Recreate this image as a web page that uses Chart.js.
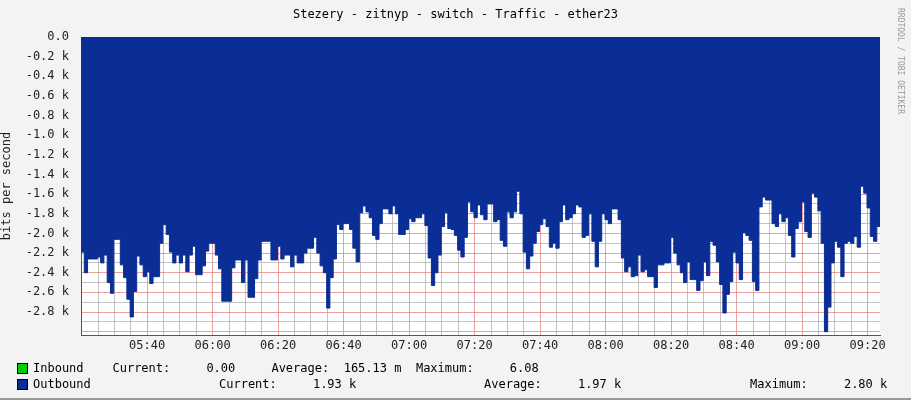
<!DOCTYPE html>
<html><head><meta charset="utf-8">
<script src="https://cdn.jsdelivr.net/npm/chart.js@4"></script>
<style>
body{margin:0;background:#f3f3f3;font-family:'DejaVu Sans Mono',monospace;}
#wrap{position:relative;width:911px;height:400px;background:#f3f3f3;overflow:hidden;border-bottom:2px solid #999;box-sizing:border-box}
.t{position:absolute;font-size:12px;color:#000;white-space:pre;line-height:14px}
.sw{position:absolute;width:9px;height:9px;border:1px solid #000}
</style></head><body>
<div id="wrap">
<canvas id="c" width="911" height="400" style="position:absolute;left:0;top:0"></canvas>
<div class="t" style="left:0;width:911px;text-align:center;top:7px">Stezery - zitnyp - switch - Traffic - ether23</div>
<div class="t" style="left:897px;top:8px;font-size:8px;color:#999;transform-origin:0 0;transform:rotate(90deg) translate(0,-10px);">RRDTOOL / TOBI OETIKER</div>
<div class="sw" style="left:17px;top:363px;background:#00cc00"></div>
<div class="t" style="left:33px;top:361px">Inbound    Current:     0.00     Average:  165.13 m  Maximum:     6.08</div>
<div class="sw" style="left:17px;top:379px;background:#0a2e96"></div>
<div class="t" style="left:33px;top:377px">Outbound</div>
<div class="t" style="left:219px;top:377px">Current:     1.93 k</div>
<div class="t" style="left:484px;top:377px">Average:     1.97 k</div>
<div class="t" style="left:750px;top:377px">Maximum:     2.80 k</div>
</div>
<script>
const outVals = [2.19,2.40,2.26,2.26,2.26,2.24,2.30,2.22,2.50,2.61,2.06,2.06,2.32,2.45,2.67,2.85,2.59,2.23,2.32,2.44,2.39,2.51,2.44,2.44,2.10,1.91,2.01,2.19,2.30,2.22,2.30,2.22,2.39,2.22,2.13,2.42,2.42,2.33,2.18,2.10,2.10,2.22,2.36,2.69,2.69,2.69,2.35,2.27,2.27,2.50,2.27,2.65,2.65,2.46,2.27,2.08,2.08,2.08,2.27,2.27,2.13,2.26,2.22,2.22,
2.34,2.22,2.30,2.30,2.20,2.15,2.15,2.04,2.20,2.33,2.40,2.76,2.45,2.26,1.91,1.96,1.90,1.90,1.96,2.15,2.29,1.79,1.72,1.78,1.84,2.02,2.06,1.90,1.75,1.75,1.80,1.72,1.80,2.01,2.01,1.96,1.85,1.88,1.84,1.84,1.80,1.92,2.25,2.53,2.40,2.22,1.93,1.79,1.95,1.96,2.02,2.17,2.24,2.04,1.68,1.78,1.84,1.71,1.81,1.86,1.70,1.70,
1.88,1.86,2.07,2.13,1.78,1.84,1.78,1.57,1.80,2.19,2.36,2.23,2.10,1.98,1.91,1.85,1.93,2.14,2.10,2.15,1.88,1.71,1.86,1.84,1.80,1.71,1.73,2.04,2.02,1.80,2.08,2.34,2.08,1.80,1.86,1.90,1.75,1.75,1.86,2.25,2.39,2.34,2.44,2.43,2.22,2.39,2.37,2.44,2.44,2.55,2.32,2.32,2.30,2.30,2.04,2.20,2.32,2.40,2.50,
2.29,2.47,2.47,2.58,2.48,2.29,2.43,2.08,2.12,2.29,2.52,2.81,2.62,2.49,2.19,2.30,2.47,1.99,2.02,2.07,2.49,2.58,1.73,1.63,1.66,1.66,1.90,1.93,1.80,1.88,1.84,2.02,2.24,1.95,1.88,1.68,1.98,2.04,1.59,1.63,1.77,2.10,3.0,2.75,2.30,2.08,2.14,2.44,2.10,2.08,2.10,2.03,2.14,1.52,1.59,1.74,2.03,2.08,1.93];
const timeLabels = ['05:40','06:00','06:20','06:40','07:00','07:20','07:40','08:00','08:20','08:40','09:00','09:20'];
const firstLabelMin = 20.2;
const yTickVals = [0,-0.2,-0.4,-0.6,-0.8,-1.0,-1.2,-1.4,-1.6,-1.8,-2.0,-2.2,-2.4,-2.6,-2.8];

const outPts = outVals.map((v,i)=>({x:i,y:-v}));
outPts.push({x:outVals.length,y:-outVals[outVals.length-1]});
const inPts = outVals.map((v,i)=>({x:i,y:0}));
const xMax = (880-81)/3.275;

new Chart(document.getElementById('c'),{
 type:'line',
 data:{datasets:[
  {data:outPts,stepped:'before',fill:'origin',backgroundColor:'#0a2e96',borderColor:'#0a2e96',borderWidth:1,pointRadius:0},
  {data:inPts,borderColor:'#00cc00',borderWidth:1,pointRadius:0,fill:false}
 ]},
 options:{
  responsive:false,animation:false,
  layout:{padding:{top:37,right:31,left:0,bottom:0}},
  plugins:{legend:{display:false},tooltip:{enabled:false}},
  scales:{
   x:{type:'linear',min:0,max:xMax,z:1,
    afterBuildTicks:s=>{const t=[];for(let m=firstLabelMin-15;m<=xMax;m+=5)t.push({value:m});s.ticks=t;},
    afterFit:s=>{s.height=65;},
    grid:{color:c=>{const k=Math.round((c.tick.value-firstLabelMin)/5);return k%4===0?'rgba(230,120,120,0.7)':'rgba(170,170,170,0.7)';},borderDash:[1,2],drawTicks:false},
    border:{display:true,color:'#555',width:1},
    ticks:{maxRotation:0,autoSkip:false,padding:4,color:'#222',font:{family:'DejaVu Sans Mono',size:12},
     callback:(v)=>{const k=Math.round((v-firstLabelMin)/5);return (k>=0&&k%4===0)?(timeLabels[k/4]||''):'';}}
   },
   y:{type:'linear',min:-3.034,max:0,z:1,
    afterBuildTicks:s=>{const t=[];for(let k=0;k<=30;k++){const v=-k*0.1;if(v>=-3.03)t.push({value:v});}s.ticks=t;},
    afterFit:s=>{s.width=81;},
    grid:{color:c=>{const k=Math.round(-c.tick.value*10);return k%2===0?'rgba(230,120,120,0.7)':'rgba(170,170,170,0.7)';},borderDash:[1,2],drawTicks:false},
    border:{display:true,color:'#555',width:1},
    title:{display:true,text:'bits per second',color:'#222',font:{family:'DejaVu Sans Mono',size:12},padding:0},
    ticks:{autoSkip:false,padding:12,color:'#222',font:{family:'DejaVu Sans Mono',size:12},
     callback:(v)=>{const k=Math.round(-v*10);if(k%2!==0||k>28)return '';const val=yTickVals[k/2];return val===0?'0.0':val.toFixed(1)+' k';}}
   }
  }
 },
 plugins:[{id:'bg',beforeDraw:(ch)=>{const a=ch.chartArea,x=ch.ctx;x.save();x.fillStyle='#fff';x.fillRect(a.left,a.top,a.right-a.left,a.bottom-a.top);x.restore();}}]
});
</script>
</body></html>
